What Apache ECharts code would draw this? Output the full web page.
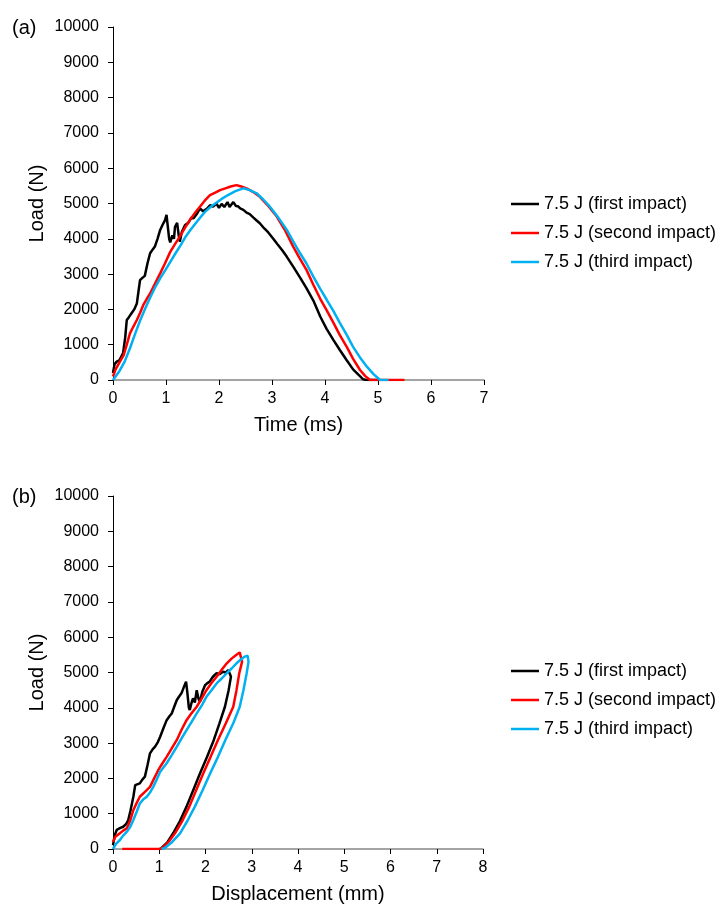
<!DOCTYPE html>
<html>
<head>
<meta charset="utf-8">
<script src="https://cdn.jsdelivr.net/npm/echarts@6/dist/echarts.min.js"></script>
<style>
html,body{margin:0;padding:0;background:#fff;}
#chart{width:718px;height:907px;}
</style>
</head>
<body>
<div id="chart"></div>
<script>
// ---------- DATA ----------
const seriesNames = ['7.5 J (first impact)', '7.5 J (second impact)', '7.5 J (third impact)'];
const yTicks = [0, 10000, 1000]; // min, max, interval of Load axis
const timeAxis = [0, 7, 1];      // min, max, interval (ms)
const dispAxis = [0, 8, 1];      // min, max, interval (mm)

// (a) Load vs Time  [time (ms), load (N)]
const timeFirst = [[0,200],[0.03,450],[0.07,520],[0.12,560],[0.19,760],[0.23,1200],[0.26,1700],[0.3,1780],[0.35,1890],[0.4,2000],[0.45,2170],[0.48,2500],[0.51,2830],[0.56,2900],[0.6,2950],[0.65,3300],[0.7,3590],[0.75,3700],[0.79,3780],[0.84,4000],[0.89,4250],[0.92,4300],[0.95,4440],[0.98,4520],[1.01,4680],[1.03,4400],[1.06,4000],[1.08,3900],[1.12,4100],[1.15,4000],[1.17,4340],[1.21,4450],[1.24,4100],[1.26,3920],[1.3,4200],[1.36,4390],[1.42,4450],[1.48,4600],[1.52,4580],[1.58,4700],[1.64,4860],[1.7,4780],[1.77,4850],[1.83,4950],[1.89,4910],[1.95,5000],[2.0,4880],[2.05,4990],[2.1,4900],[2.16,5040],[2.2,4900],[2.27,5040],[2.32,4930],[2.36,4920],[2.4,4860],[2.46,4820],[2.52,4740],[2.58,4700],[2.65,4600],[2.71,4520],[2.77,4440],[2.85,4300],[2.93,4180],[3.02,4010],[3.1,3850],[3.2,3660],[3.28,3490],[3.4,3210],[3.53,2900],[3.65,2600],[3.78,2250],[3.91,1800],[4.03,1450],[4.16,1130],[4.28,850],[4.4,580],[4.53,300],[4.63,150],[4.72,20],[4.78,0],[5.0,0]];
const timeSecond = [[0,100],[0.05,300],[0.13,520],[0.2,700],[0.26,1000],[0.32,1320],[0.38,1500],[0.45,1700],[0.51,1900],[0.57,2120],[0.63,2280],[0.7,2450],[0.8,2750],[0.89,3020],[0.98,3300],[1.08,3630],[1.17,3850],[1.26,4060],[1.36,4320],[1.45,4530],[1.54,4720],[1.64,4910],[1.73,5080],[1.83,5240],[1.92,5300],[2.02,5380],[2.12,5430],[2.22,5480],[2.33,5520],[2.42,5480],[2.52,5430],[2.64,5330],[2.77,5190],[2.93,4930],[3.09,4630],[3.25,4230],[3.4,3780],[3.52,3450],[3.65,3120],[3.78,2700],[3.91,2300],[4.03,1980],[4.16,1620],[4.28,1270],[4.41,940],[4.53,600],[4.66,283],[4.76,110],[4.85,0],[5.5,0]];
const timeThird = [[0,0],[0.12,250],[0.22,520],[0.32,900],[0.42,1320],[0.51,1680],[0.61,2030],[0.7,2330],[0.8,2640],[0.89,2880],[0.99,3120],[1.09,3370],[1.18,3590],[1.28,3830],[1.37,4060],[1.46,4250],[1.56,4440],[1.65,4610],[1.74,4770],[1.84,4900],[1.93,5000],[2.05,5130],[2.17,5240],[2.31,5350],[2.46,5430],[2.58,5380],[2.71,5290],[2.83,5120],[2.96,4910],[3.12,4600],[3.28,4250],[3.4,3930],[3.53,3590],[3.65,3300],[3.78,2930],[3.91,2580],[4.03,2280],[4.16,1950],[4.28,1620],[4.41,1280],[4.53,940],[4.66,640],[4.79,377],[4.92,160],[5.04,0],[5.2,0]];

// (b) Load vs Displacement  [displacement (mm), load (N)]
const dispFirst = [[0,110],[0.04,400],[0.08,540],[0.15,590],[0.22,630],[0.28,700],[0.33,820],[0.38,1100],[0.44,1480],[0.48,1810],[0.52,1820],[0.58,1860],[0.63,1960],[0.69,2050],[0.75,2400],[0.8,2710],[0.86,2830],[0.91,2900],[0.97,3030],[1.02,3180],[1.09,3420],[1.16,3650],[1.22,3760],[1.27,3840],[1.33,4050],[1.38,4220],[1.43,4320],[1.48,4410],[1.53,4580],[1.58,4740],[1.61,4400],[1.64,4000],[1.66,3940],[1.7,4150],[1.73,4270],[1.77,4150],[1.81,4500],[1.85,4250],[1.88,4170],[1.93,4450],[1.99,4640],[2.04,4700],[2.09,4740],[2.16,4880],[2.24,4980],[2.3,4950],[2.38,5020],[2.44,5000],[2.49,5070],[2.53,4950],[2.55,4880],[2.5,4500],[2.42,4030],[2.3,3550],[2.18,3090],[2.03,2600],[1.88,2140],[1.73,1650],[1.59,1200],[1.45,800],[1.3,445],[1.17,180],[1.05,30],[1.02,0]];
const dispSecond = [[0,200],[0.05,350],[0.15,445],[0.22,520],[0.3,590],[0.37,800],[0.44,1100],[0.51,1300],[0.58,1480],[0.69,1620],[0.8,1760],[0.89,2000],[0.98,2240],[1.07,2430],[1.16,2610],[1.27,2850],[1.38,3090],[1.48,3370],[1.59,3650],[1.7,3850],[1.81,4030],[1.92,4270],[2.02,4500],[2.13,4700],[2.24,4880],[2.35,5080],[2.46,5260],[2.57,5400],[2.67,5500],[2.74,5570],[2.78,5530],[2.79,5300],[2.73,4980],[2.67,4500],[2.6,4030],[2.44,3560],[2.27,3090],[2.11,2610],[1.95,2140],[1.8,1670],[1.65,1200],[1.5,800],[1.34,445],[1.2,200],[1.07,30],[1.0,0],[0.2,0]];
const dispThird = [[0,0],[0.07,150],[0.15,255],[0.22,380],[0.3,490],[0.37,620],[0.44,820],[0.51,1050],[0.58,1290],[0.65,1400],[0.73,1480],[0.8,1600],[0.87,1760],[0.95,1980],[1.02,2190],[1.09,2310],[1.16,2430],[1.27,2660],[1.38,2900],[1.48,3130],[1.59,3370],[1.7,3600],[1.81,3840],[1.92,4070],[2.02,4310],[2.13,4500],[2.24,4690],[2.35,4830],[2.46,4980],[2.57,5120],[2.67,5260],[2.76,5360],[2.85,5450],[2.91,5480],[2.93,5300],[2.89,4980],[2.82,4500],[2.74,4030],[2.6,3560],[2.43,3090],[2.27,2610],[2.1,2140],[1.94,1670],[1.77,1200],[1.61,800],[1.45,445],[1.28,200],[1.12,30],[1.05,0]];

// ---------- CHART ----------
const FONT = 'Arial, "Liberation Sans", Helvetica, sans-serif';
const colors = ['#000000', '#FF0000', '#00B0F0'];

function yAxisDef(gridIndex) {
  return {
    type: 'value', gridIndex: gridIndex,
    min: yTicks[0], max: yTicks[1], interval: yTicks[2],
    name: 'Load (N)', nameLocation: 'middle', nameGap: 66, nameMoveOverlap: false,
    nameTextStyle: { fontFamily: FONT, fontSize: 20, color: '#000' },
    axisLine: { show: true, lineStyle: { color: '#000', width: 1 } },
    axisTick: { show: true, inside: false, length: 5, lineStyle: { color: '#000' } },
    axisLabel: { fontFamily: FONT, fontSize: 16, color: '#000', margin: 14, formatter: function (v) { return String(v); } },
    splitLine: { show: false }
  };
}
function xAxisDef(gridIndex, ax, name) {
  return {
    type: 'value', gridIndex: gridIndex,
    min: ax[0], max: ax[1], interval: ax[2],
    name: name, nameLocation: 'middle', nameGap: 35, nameMoveOverlap: false,
    nameTextStyle: { fontFamily: FONT, fontSize: 20, color: '#000' },
    axisLine: { show: true, onZero: false, lineStyle: { color: '#868686', width: 1.5 } },
    axisTick: { show: true, inside: false, length: 5, lineStyle: { color: '#000' } },
    axisLabel: { fontFamily: FONT, fontSize: 16, color: '#000', margin: 11, formatter: function (v) { return String(v); } },
    splitLine: { show: false }
  };
}
function lineSeries(name, data, idx, axisIdx) {
  return {
    name: name, type: 'line', data: data,
    xAxisIndex: axisIdx, yAxisIndex: axisIdx,
    symbol: 'none', smooth: false, animation: false,
    lineStyle: { color: colors[idx], width: 2.5 },
    itemStyle: { color: colors[idx] }
  };
}
function legendDef(top) {
  return {
    data: seriesNames, orient: 'vertical', left: 511, top: top,
    padding: 0, itemGap: 11, itemWidth: 28, itemHeight: 2.5, icon: 'rect',
    textStyle: { fontFamily: FONT, fontSize: 18, color: '#000', lineHeight: 18 },
    selectedMode: false
  };
}

const chart = echarts.init(document.getElementById('chart'), null, { renderer: 'canvas' });
chart.setOption({
  backgroundColor: '#ffffff',
  animation: false,
  title: [
    { text: '(a)', left: 12, top: 18, padding: 0, textStyle: { fontFamily: FONT, fontSize: 20, fontWeight: 'normal', color: '#000' } },
    { text: '(b)', left: 12, top: 487, padding: 0, textStyle: { fontFamily: FONT, fontSize: 20, fontWeight: 'normal', color: '#000' } }
  ],
  legend: [legendDef(195), legendDef(662)],
  grid: [
    { left: 113, top: 27, width: 371, height: 353, containLabel: false },
    { left: 113, top: 496, width: 370, height: 353, containLabel: false }
  ],
  xAxis: [xAxisDef(0, timeAxis, 'Time (ms)'), xAxisDef(1, dispAxis, 'Displacement (mm)')],
  yAxis: [yAxisDef(0), yAxisDef(1)],
  series: [
    lineSeries(seriesNames[0], timeFirst, 0, 0),
    lineSeries(seriesNames[1], timeSecond, 1, 0),
    lineSeries(seriesNames[2], timeThird, 2, 0),
    lineSeries(seriesNames[0], dispFirst, 0, 1),
    lineSeries(seriesNames[1], dispSecond, 1, 1),
    lineSeries(seriesNames[2], dispThird, 2, 1)
  ]
});
</script>
</body>
</html>
